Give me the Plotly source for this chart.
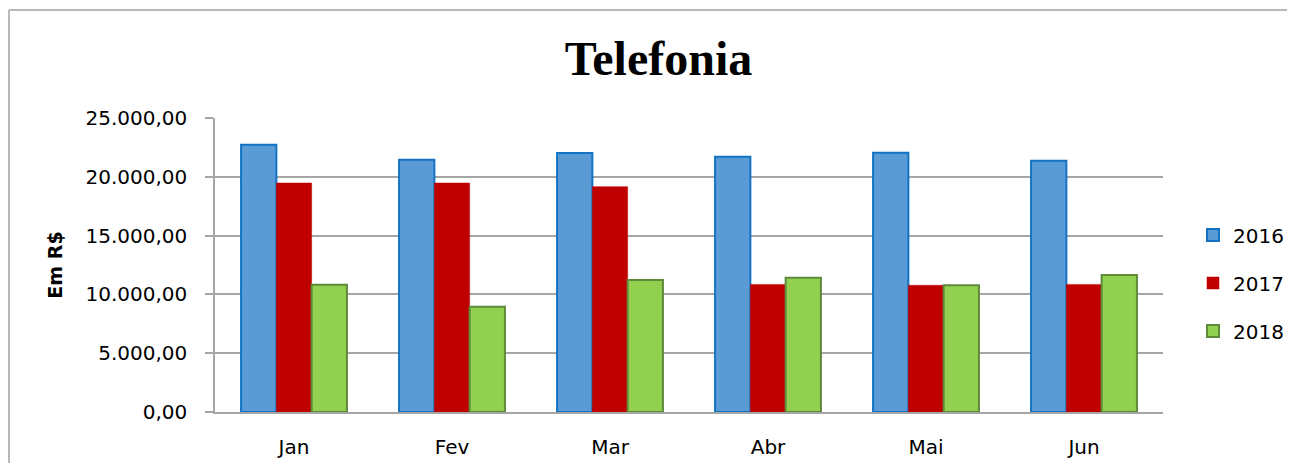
import plotly.graph_objects as go

months = ["Jan", "Fev", "Mar", "Abr", "Mai", "Jun"]
series_names = ["2016", "2017", "2018"]
values_2016 = [22730, 21450, 22030, 21710, 22050, 21370]
values_2017 = [19470, 19470, 19160, 10850, 10770, 10850]
values_2018 = [10820, 8950, 11220, 11420, 10770, 11650]
y_ticks = [0, 5000, 10000, 15000, 20000, 25000]

fills = ["#5B9BD5", "#C00000", "#92D050"]
lines = ["#1273C4", "#C00000", "#5E8A3A"]
line_w = [2, 0.5, 2]

OFF = 8  # page body offset
W, H = 1295 - 2 * OFF, 471 - 2 * OFF
# plot area in screen pixels
SL, SR, ST, SB = 215, 1163, 118, 412
L, R, T, B = SL - OFF, SR - OFF, ST - OFF, SB - OFF

fig = go.Figure()
for name, vals, fc, lc, lw in zip(series_names, [values_2016, values_2017, values_2018], fills, lines, line_w):
    fig.add_trace(go.Bar(
        x=months, y=vals, name=name, legendgroup=name,
        marker=dict(color=fc, line=dict(color=lc, width=lw)),
    ))

def px_x(p):
    return (p - SL) / (SR - SL)

def px_y(p):
    return (SB - p) / (SB - ST)

border = dict(color="#A0A0A0", width=1.5)

fig.update_layout(
    width=W, height=H,
    margin=dict(l=L, r=W - R, t=T, b=H - B, pad=0, autoexpand=False),
    paper_bgcolor="white", plot_bgcolor="white",
    separators=",.",
    barmode="group", bargap=0.33, bargroupgap=0,
    title=dict(text="<b>Telefonia</b>", font=dict(family="Liberation Serif", size=48, color="black"),
               x=(658.5 - OFF) / W, xanchor="center", xref="container",
               y=1 - (58 - OFF) / H, yanchor="middle", yref="container"),
    font=dict(family="DejaVu Sans", color="black"),
    legend=dict(x=px_x(1193), xanchor="left", y=px_y(283), yanchor="middle",
                font=dict(size=20, family="DejaVu Sans", color="black"),
                tracegroupgap=19, bgcolor="rgba(0,0,0,0)", itemwidth=30),
    showlegend=True,
    xaxis=dict(showline=True, linecolor="#A6A6A6", linewidth=1.5, ticks="",
               tickfont=dict(size=20, family="DejaVu Sans", color="black"),
               ticklabelstandoff=16, showgrid=False, fixedrange=True, automargin=False),
    yaxis=dict(range=[0, 25000], tickvals=y_ticks, tickformat=",.2f",
               showline=True, linecolor="#A6A6A6", linewidth=1.5,
               ticks="outside", ticklen=8, tickcolor="#A6A6A6", tickwidth=1.5,
               showgrid=True, gridcolor="#A6A6A6", gridwidth=1.5,
               tickfont=dict(size=20, family="DejaVu Sans", color="black"),
               ticklabelstandoff=14, automargin=False,
               title=dict(text="<b>Em R$</b>", font=dict(size=19, family="DejaVu Sans", color="black"), standoff=18),
               zeroline=False),
    shapes=[
        dict(type="line", xref="paper", yref="paper",
             x0=px_x(9), x1=px_x(1300), y0=px_y(10), y1=px_y(10), line=border, layer="below"),
        dict(type="line", xref="paper", yref="paper",
             x0=px_x(9), x1=px_x(9), y0=px_y(10), y1=px_y(480), line=border, layer="below"),
    ],
)

fig.write_html("out.html", config={"displayModeBar": False})
